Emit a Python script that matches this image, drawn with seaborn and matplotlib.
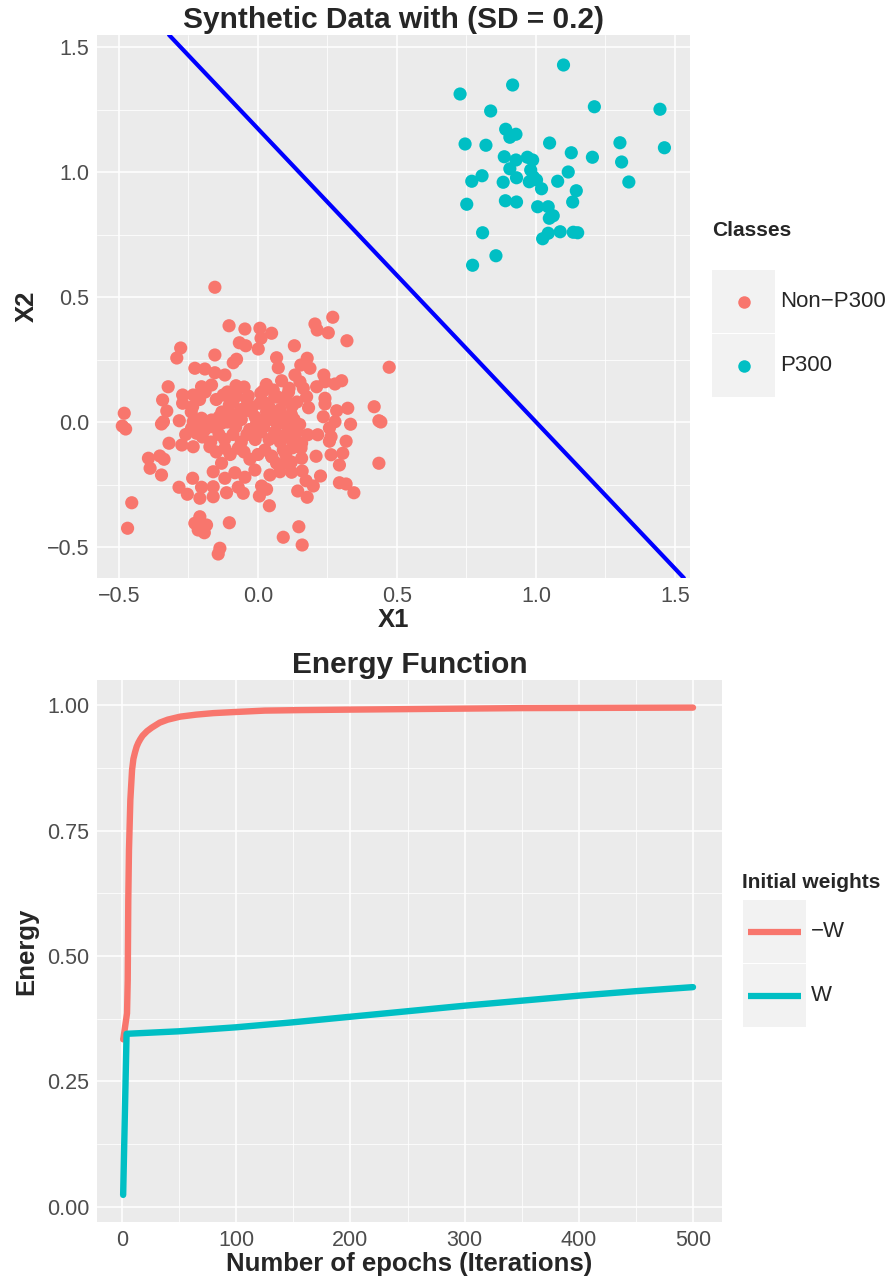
import matplotlib
matplotlib.use("Agg")
import matplotlib.pyplot as plt
import seaborn as sns
import numpy as np
import pandas as pd
from matplotlib.patches import Rectangle
from matplotlib.lines import Line2D
from matplotlib.ticker import MultipleLocator

# ---------------- data ----------------
nonp300_x = [
    -0.155, -0.104, -0.047, 0.007, 0.049, 0.011, -0.067, -0.044, 0.001, 0.131, -0.278, -0.292, -0.155, -0.077,
    -0.089, 0.067, 0.073, -0.227, -0.191, -0.155, -0.119, 0.133, 0.085, -0.323, -0.203, -0.167, -0.079, 0.112,
    0.019, -0.271, -0.233, -0.125, -0.077, -0.035, 0.055, 0.073, -0.343, -0.271, -0.235, -0.103, 0.007, 0.123,
    -0.481, -0.328, -0.031, 0.031, 0.055, 0.091, -0.089, -0.488, -0.340, -0.283, -0.233, -0.203, -0.167, -0.131,
    -0.005, 0.025,
    0.205, 0.269, 0.213, 0.253, 0.320, 0.177, 0.154, 0.187, 0.472, 0.151, 0.237, 0.241, 0.211, 0.277, 0.301,
    0.163, 0.175, 0.241, 0.241, 0.182, 0.323, 0.283, 0.418, 0.235, 0.277, 0.333, 0.435, 0.442,
    0.257, 0.179, 0.215, 0.257, 0.317, 0.155, 0.209, 0.263,
    0.435, 0.263, 0.305, 0.293, 0.225, 0.293, 0.317, 0.345, 0.157, 0.157, 0.173, 0.199, 0.177, 0.143, 0.159,
    0.121, 0.147, 0.159, 0.091, 0.041, 0.005, -0.103, -0.137, -0.143, 0.067, 0.103, 0.079, 0.043, 0.031, 0.013,
    -0.053, -0.071, -0.119, -0.161, -0.161, -0.113, -0.161, -0.131, -0.083, -0.047, -0.011, 0.049, 0.091, 0.125,
    -0.029, 0.025, -0.071, -0.119, -0.173,
    -0.347, -0.320, -0.274, -0.394, -0.388, -0.353, -0.338, -0.347, -0.454, -0.469, -0.284, -0.254, -0.235,
    -0.209, -0.203, -0.227, -0.209, -0.185, -0.215, -0.193, -0.233, -0.221, -0.239, -0.476,
    -0.21, -0.15, -0.13, -0.11, -0.09, -0.06, -0.04, -0.02, 0.01, 0.02, 0.04, 0.06, 0.08, 0.10, 0.12, 0.14,
    -0.22, -0.19, -0.16, -0.14, -0.11, -0.08, -0.06, -0.03, -0.01, 0.02, 0.04, 0.07, 0.09, 0.11, 0.13, 0.15,
    -0.20, -0.17, -0.14, -0.12, -0.09, -0.06, -0.04, -0.01, 0.01, 0.04, 0.06, 0.08, 0.10, 0.12, 0.14,
    -0.15, -0.10, -0.05, 0.00, 0.05, 0.10, 0.12, -0.24, -0.19, -0.05, 0.03, 0.11, -0.26,
]
nonp300_y = [
    0.539, 0.385, 0.372, 0.375, 0.355, 0.335, 0.317, 0.305, 0.292, 0.305, 0.296, 0.256, 0.268, 0.251,
    0.237, 0.257, 0.217, 0.215, 0.212, 0.197, 0.188, 0.188, 0.165, 0.141, 0.141, 0.148, 0.145, 0.135,
    0.124, 0.108, 0.108, 0.108, 0.104, 0.104, 0.128, 0.099, 0.088, 0.075, 0.061, 0.068, 0.075, 0.064,
    0.035, 0.044, 0.045, 0.041, 0.028, 0.021, 0.028, -0.016, 0.001, 0.005, 0.001, 0.015, 0.008, -0.005,
    -0.005, 0.008,
    0.392, 0.419, 0.368, 0.357, 0.325, 0.255, 0.228, 0.215, 0.219, 0.161, 0.188, 0.161, 0.141, 0.152, 0.165,
    0.135, 0.101, 0.095, 0.072, 0.057, 0.055, 0.045, 0.061, 0.021, 0.001, -0.009, 0.005, 0.000,
    -0.024, -0.051, -0.051, -0.077, -0.077, -0.104, -0.137, -0.131,
    -0.165, -0.059, -0.125, -0.172, -0.216, -0.243, -0.248, -0.283, -0.085, -0.145, -0.235, -0.256, -0.301,
    -0.276, -0.196, -0.201, -0.419, -0.492, -0.461, -0.335, -0.296, -0.403, -0.505, -0.528, -0.165, -0.163,
    -0.199, -0.212, -0.269, -0.256, -0.285, -0.261, -0.225, -0.259, -0.299, -0.283, -0.199, -0.165, -0.203,
    -0.221, -0.192, -0.136, -0.112, -0.103, -0.149, -0.112, -0.105, -0.105, -0.099,
    -0.008, -0.085, -0.092, -0.145, -0.185, -0.136, -0.149, -0.212, -0.323, -0.425, -0.261, -0.289, -0.225,
    -0.305, -0.261, -0.405, -0.379, -0.412, -0.432, -0.443, -0.099, -0.045, -0.025, -0.028,
    0.09, 0.09, 0.04, 0.12, 0.08, 0.05, 0.09, 0.06, 0.115, 0.08, 0.06, 0.10, 0.05, 0.09, 0.03, 0.08,
    -0.01, -0.03, -0.02, 0.02, 0.00, -0.02, 0.01, -0.03, 0.02, -0.02, 0.01, -0.01, 0.00, -0.03, 0.01, -0.01,
    -0.06, -0.08, -0.05, -0.07, -0.05, -0.08, -0.05, -0.07, -0.04, -0.07, -0.04, -0.08, -0.05, -0.07, -0.04,
    -0.12, -0.13, -0.12, -0.13, -0.14, -0.13, -0.16, 0.04, 0.12, 0.14, 0.15, 0.12, -0.05,
]
p300_x = [
    1.099, 0.916, 0.727, 1.210, 1.446, 0.837, 0.891, 0.928, 0.906, 0.745, 0.820, 1.049, 1.302, 1.462, 1.127,
    1.203, 0.886, 0.928, 0.969, 0.988, 1.308, 0.906, 0.981, 1.116, 0.806, 0.769, 0.930, 0.990, 0.882, 0.976,
    1.002, 1.078, 1.334, 1.020, 1.145, 0.890, 0.930, 0.751, 1.132, 1.006, 1.044, 1.062, 1.048, 0.808, 1.087,
    1.134, 1.150, 1.044, 1.024, 0.856, 0.772,
]
p300_y = [
    1.428, 1.348, 1.312, 1.261, 1.251, 1.244, 1.171, 1.151, 1.139, 1.112, 1.107, 1.116, 1.117, 1.097, 1.077,
    1.059, 1.061, 1.048, 1.059, 1.048, 1.040, 1.013, 1.008, 1.000, 0.985, 0.963, 0.977, 0.981, 0.959, 0.961,
    0.968, 0.963, 0.960, 0.933, 0.925, 0.885, 0.880, 0.871, 0.880, 0.861, 0.861, 0.825, 0.815, 0.757, 0.761,
    0.759, 0.757, 0.755, 0.733, 0.665, 0.627,
]
class_labels = ["Non\u2212P300", "P300"]
boundary_intercept = 1.173
boundary_slope = -1.173

neg_w_epochs = [1, 1.3, 4.4, 5.0, 5.5, 6.1, 7.3, 8.8, 10.0, 11.4, 12.8, 14.3, 16.0, 18.0, 21.9, 26, 33, 40,
                51, 65, 80, 97, 125, 156, 200, 250, 350, 500]
neg_w_energy = [0.334, 0.337, 0.386, 0.452, 0.612, 0.711, 0.811, 0.871, 0.893, 0.906, 0.917, 0.925, 0.932,
                0.939, 0.948, 0.955, 0.965, 0.971, 0.977, 0.981, 0.984, 0.986, 0.989, 0.990, 0.991, 0.992,
                0.994, 0.995]
w_epochs = [1, 4, 50, 100, 150, 200, 250, 300, 350, 400, 450, 500]
w_energy = [0.024, 0.345, 0.350, 0.358, 0.368, 0.379, 0.390, 0.401, 0.411, 0.421, 0.430, 0.438]
weight_labels = ["\u2212W", "W"]

red, cyan = "#F8766D", "#00BFC4"

scatter_df = pd.DataFrame({
    "X1": nonp300_x + p300_x,
    "X2": nonp300_y + p300_y,
    "Classes": [class_labels[0]] * len(nonp300_x) + [class_labels[1]] * len(p300_x),
})
energy_df = pd.DataFrame({
    "epoch": neg_w_epochs + w_epochs,
    "Energy": neg_w_energy + w_energy,
    "Initial weights": [weight_labels[0]] * len(neg_w_epochs) + [weight_labels[1]] * len(w_epochs),
})

# ---------------- style ----------------
sns.set_style("white")
plt.rcParams["font.family"] = ["Liberation Sans", "DejaVu Sans"]

W, H = 893, 1278
fig = plt.figure(figsize=(W / 100, H / 100), dpi=100)


def px_axes(l, t, r, b):
    return fig.add_axes([l / W, 1 - b / H, (r - l) / W, (b - t) / H])


def gg_style(ax, xminor, yminor):
    ax.set_facecolor("#EBEBEB")
    for s in ax.spines.values():
        s.set_visible(False)
    ax.xaxis.set_minor_locator(MultipleLocator(xminor))
    ax.yaxis.set_minor_locator(MultipleLocator(yminor))
    ax.grid(which="major", color="white", linewidth=1.1)
    ax.grid(which="minor", color="white", linewidth=0.55)
    ax.set_axisbelow(True)
    ax.tick_params(which="major", length=3.5, width=0.8, color="#333333", labelcolor="#4D4D4D",
                   labelsize=15.5, pad=2)
    ax.tick_params(which="minor", length=0)


# ---------------- top panel ----------------
ax1 = px_axes(97, 35, 690, 578)
sns.scatterplot(data=scatter_df, x="X1", y="X2", hue="Classes", hue_order=class_labels,
                palette=[red, cyan], s=90, linewidth=0, alpha=1, legend=False, ax=ax1, zorder=3)
ax1.axline((0, boundary_intercept), slope=boundary_slope, color="#0000FF", linewidth=3, zorder=4)
ax1.set_xlim(-0.579, 1.554)
ax1.set_ylim(-0.624, 1.548)
ax1.set_xticks([-0.5, 0.0, 0.5, 1.0, 1.5])
ax1.set_yticks([-0.5, 0.0, 0.5, 1.0, 1.5])
gg_style(ax1, 0.25, 0.25)
ax1.set_xlabel("X1", fontsize=18.5, fontweight="bold", labelpad=1)
ax1.set_ylabel("X2", fontsize=18.5, fontweight="bold", labelpad=6)
ax1.set_title("Synthetic Data with (SD = 0.2)", fontsize=21.5, fontweight="bold", pad=5)

# ---------------- bottom panel ----------------
ax2 = px_axes(97, 680, 722, 1222)
sns.lineplot(data=energy_df, x="epoch", y="Energy", hue="Initial weights", hue_order=weight_labels,
             palette=[red, cyan], linewidth=4.6, legend=False, ax=ax2, sort=False)
for ln in ax2.lines:
    ln.set_solid_joinstyle("round")
ax2.set_xlim(-21.9, 525.4)
ax2.set_ylim(-0.030, 1.050)
ax2.set_xticks([0, 100, 200, 300, 400, 500])
ax2.set_yticks([0.0, 0.25, 0.5, 0.75, 1.0])
ax2.set_yticklabels(["0.00", "0.25", "0.50", "0.75", "1.00"])
gg_style(ax2, 50, 0.125)
ax2.set_xlabel("Number of epochs (Iterations)", fontsize=18.5, fontweight="bold", labelpad=1)
ax2.set_ylabel("Energy", fontsize=18.5, fontweight="bold", labelpad=6)
ax2.set_title("Energy Function", fontsize=21.5, fontweight="bold", pad=5)


# ---------------- legends (ggplot-like) ----------------
def fx(x):
    return x / W


def fy(y):
    return 1 - y / H


def key_box(l, t, r, b):
    fig.add_artist(Rectangle((fx(l), fy(b)), (r - l) / W, (b - t) / H, transform=fig.transFigure,
                             facecolor="#F2F2F2", edgecolor="none"))


fig.text(fx(712), fy(230), "Classes", fontsize=15, fontweight="bold", va="center", ha="left")
for i, (lab, col) in enumerate(zip(class_labels, [red, cyan])):
    t = 270 + i * 64
    key_box(712, t, 775, t + 63)
    fig.add_artist(Line2D([fx(743.5)], [fy(t + 31.5)], marker="o", markersize=9, color=col,
                          markeredgewidth=0, linestyle="none", transform=fig.transFigure))
    fig.text(fx(780), fy(t + 31.5), lab, fontsize=16, va="center", ha="left")

fig.text(fx(742), fy(883), "Initial weights", fontsize=15, fontweight="bold", va="center", ha="left")
for i, (lab, col) in enumerate(zip(weight_labels, [red, cyan])):
    t = 900 + i * 64
    key_box(743, t, 806, t + 63)
    fig.add_artist(Line2D([fx(748), fx(801)], [fy(t + 31.5)] * 2, color=col, linewidth=4.5,
                          solid_capstyle="butt", transform=fig.transFigure))
    fig.text(fx(811), fy(t + 31.5), lab, fontsize=16, va="center", ha="left")

fig.savefig("out.png", dpi=100, facecolor="white")
